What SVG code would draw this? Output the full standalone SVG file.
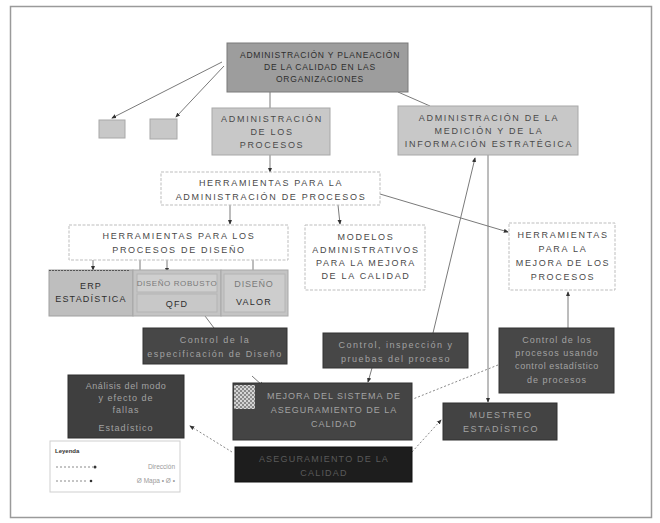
<svg xmlns="http://www.w3.org/2000/svg" width="660" height="523" viewBox="0 0 660 523">
  <style>
    text { font-family: "Liberation Sans", Arial, sans-serif; text-anchor: middle; }
    .t { font-size: 9px; letter-spacing: 1.7px; fill: #4a4a4a; }
    .tr { font-size: 8.5px; letter-spacing: 0.8px; fill: #2e2e2e; }
    .tb { font-size: 9px; letter-spacing: 1.2px; fill: #2e2e2e; }
    .td { font-size: 9px; letter-spacing: 1.5px; fill: #a2a2a2; }
    .gray { fill: #c8c8c8; stroke: #a8a8a8; stroke-width: 1; }
    .wht { fill: #ffffff; stroke: #bdbdbd; stroke-width: 1; stroke-dasharray: 3 1.5; }
    .dark { fill: #474747; stroke: #333; stroke-width: 1; }
    .ln { stroke: #7a7a7a; stroke-width: 1; fill: none; }
    .dl { stroke: #8a8a8a; stroke-width: 1; fill: none; stroke-dasharray: 2 2; }
  </style>
  <defs>
    <marker id="arr" viewBox="0 0 6 6" refX="5" refY="3" markerWidth="5" markerHeight="5" orient="auto">
      <path d="M0,0.5 L6,3 L0,5.5 Z" fill="#333"/>
    </marker>
    <pattern id="qr" width="4" height="4" patternUnits="userSpaceOnUse">
      <rect width="4" height="4" fill="#8a8a8a"/>
      <rect width="2" height="2" fill="#d8d8d8"/>
      <rect x="2" y="2" width="2" height="2" fill="#cfcfcf"/>
    </pattern>
  </defs>

  <!-- page frame -->
  <rect x="0" y="0" width="660" height="523" fill="#ffffff"/>
  <rect x="10.5" y="6.5" width="641" height="511" fill="#ffffff" stroke="#9a9a9a" stroke-width="1.5"/>

  <!-- connectors -->
  <g id="connectors">
    <line class="ln" x1="222" y1="62" x2="112" y2="118" marker-end="url(#arr)"/>
    <line class="ln" x1="224" y1="66" x2="176" y2="117" marker-end="url(#arr)"/>
    <line class="ln" x1="270" y1="92" x2="270" y2="108"/>
    <line class="ln" x1="398" y1="92" x2="430" y2="106"/>
    <line class="ln" x1="270" y1="155" x2="270" y2="172" marker-end="url(#arr)"/>
    <line class="ln" x1="230" y1="205" x2="230" y2="224" marker-end="url(#arr)"/>
    <line class="ln" x1="338" y1="205" x2="340" y2="224" marker-end="url(#arr)"/>
    <line class="ln" x1="380" y1="194" x2="508" y2="232" marker-end="url(#arr)"/>
    <line class="ln" x1="93" y1="260" x2="93" y2="270" marker-end="url(#arr)"/>
    <line class="ln" x1="140" y1="260" x2="140" y2="272"/>
    <line class="ln" x1="167" y1="260" x2="167" y2="272" marker-end="url(#arr)"/>
    <line class="ln" x1="253" y1="260" x2="253" y2="272"/>
    <line class="ln" x1="205" y1="316" x2="214" y2="328"/>
    <line class="ln" x1="252" y1="376" x2="263" y2="386" marker-end="url(#arr)"/>
    <line class="ln" x1="372" y1="368" x2="368" y2="382" marker-end="url(#arr)"/>
    <line class="ln" x1="433" y1="333" x2="475" y2="158" marker-end="url(#arr)"/>
    <line class="ln" x1="488" y1="155" x2="488" y2="402" marker-end="url(#arr)"/>
    <line class="ln" x1="568" y1="328" x2="568" y2="292" marker-end="url(#arr)"/>
    <line class="dl" x1="498" y1="365" x2="413" y2="399"/>
    <line class="dl" x1="232" y1="452" x2="190" y2="426" marker-end="url(#arr)"/>
    <line class="dl" x1="412" y1="452" x2="441" y2="420" marker-end="url(#arr)"/>
  </g>

  <!-- root node -->
  <g id="n-root">
    <rect x="227" y="43" width="181" height="49" fill="#9d9d9d" stroke="#7a7a7a"/>
    <text class="tr" x="320" y="58">ADMINISTRACIÓN Y PLANEACIÓN</text>
    <text class="tr" x="320" y="70">DE LA CALIDAD EN LAS</text>
    <text class="tr" x="320" y="82">ORGANIZACIONES</text>
  </g>

  <g id="n-small1"><rect class="gray" x="99" y="120" width="26" height="18"/></g>
  <g id="n-small2"><rect class="gray" x="150" y="119" width="27" height="20"/></g>

  <g id="n-procesos">
    <rect class="gray" x="212" y="108" width="118" height="47"/>
    <text class="t" x="272" y="122">ADMINISTRACIÓN</text>
    <text class="t" x="272" y="135">DE LOS</text>
    <text class="t" x="272" y="148">PROCESOS</text>
  </g>

  <g id="n-medicion">
    <rect class="gray" x="398" y="106" width="180" height="49"/>
    <text class="t" x="489" y="121">ADMINISTRACIÓN DE LA</text>
    <text class="t" x="489" y="134">MEDICIÓN Y DE LA</text>
    <text class="t" x="489" y="147">INFORMACIÓN ESTRATÉGICA</text>
  </g>

  <g id="n-herr-admin">
    <rect class="wht" x="161" y="172" width="219" height="33"/>
    <text class="t" x="271" y="186">HERRAMIENTAS PARA LA</text>
    <text class="t" x="271" y="200">ADMINISTRACIÓN DE PROCESOS</text>
  </g>

  <g id="n-herr-diseno">
    <rect class="wht" x="69" y="225" width="219" height="35"/>
    <text class="t" x="179" y="239">HERRAMIENTAS PARA LOS</text>
    <text class="t" x="179" y="253">PROCESOS DE DISEÑO</text>
  </g>

  <g id="n-modelos">
    <rect class="wht" x="305" y="225" width="120" height="65"/>
    <text class="t" x="366" y="240">MODELOS</text>
    <text class="t" x="366" y="253">ADMINISTRATIVOS</text>
    <text class="t" x="366" y="266">PARA LA MEJORA</text>
    <text class="t" x="366" y="279">DE LA CALIDAD</text>
  </g>

  <g id="n-herr-mejora">
    <rect class="wht" x="509" y="223" width="106" height="67"/>
    <text class="t" x="563" y="238">HERRAMIENTAS</text>
    <text class="t" x="563" y="252">PARA LA</text>
    <text class="t" x="563" y="266">MEJORA DE LOS</text>
    <text class="t" x="563" y="280">PROCESOS</text>
  </g>

  <!-- design tools strip -->
  <g id="n-erp">
    <rect x="49" y="270" width="84" height="46" fill="#bebebe" stroke="#a0a0a0"/>
    <line x1="49" y1="270.5" x2="130" y2="270.5" stroke="#555" stroke-dasharray="2 1"/>
    <text class="tb" x="91" y="289">ERP</text>
    <text class="tb" x="91" y="302">ESTADÍSTICA</text>
  </g>
  <g id="n-qfd">
    <rect x="133" y="270" width="88" height="46" fill="#c4c4c4" stroke="#a8a8a8"/>
    <rect x="137" y="274" width="80" height="18" fill="#cfcfcf" stroke="#b4b4b4"/>
    <rect x="137" y="294" width="80" height="18" fill="#c8c8c8" stroke="#b4b4b4"/>
    <text class="t" x="177" y="286" style="fill:#7a7a7a;font-size:8px;letter-spacing:0.6px">DISEÑO ROBUSTO</text>
    <text class="tb" x="177" y="307">QFD</text>
  </g>
  <g id="n-valor">
    <rect x="221" y="270" width="67" height="46" fill="#c4c4c4" stroke="#a8a8a8"/>
    <rect x="224" y="274" width="61" height="38" fill="#cdcdcd" stroke="#b4b4b4"/>
    <text class="t" x="254" y="287" style="fill:#7a7a7a;letter-spacing:0.8px">DISEÑO</text>
    <text class="tb" x="254" y="305">VALOR</text>
  </g>

  <!-- control nodes -->
  <g id="n-ctrl-diseno">
    <rect class="dark" x="143" y="328" width="144" height="36"/>
    <text class="td" x="215" y="343">Control de la</text>
    <text class="td" x="215" y="357">especificación de Diseño</text>
  </g>
  <g id="n-ctrl-insp">
    <rect class="dark" x="323" y="333" width="145" height="35"/>
    <text class="td" x="396" y="348">Control, inspección y</text>
    <text class="td" x="396" y="362">pruebas del proceso</text>
  </g>
  <g id="n-ctrl-proc">
    <rect class="dark" x="499" y="328" width="115" height="65"/>
    <text class="td" x="557" y="343" style="letter-spacing:1px">Control de los</text>
    <text class="td" x="557" y="356" style="letter-spacing:1px">procesos usando</text>
    <text class="td" x="557" y="369" style="letter-spacing:0.6px">control estadístico</text>
    <text class="td" x="557" y="383" style="letter-spacing:1px">de procesos</text>
  </g>
  <g id="n-analisis">
    <rect x="68" y="375" width="116" height="63" fill="#3f3f3f" stroke="#2e2e2e"/>
    <text class="td" x="126" y="389" style="letter-spacing:0.6px">Análisis del modo</text>
    <text class="td" x="126" y="401" style="letter-spacing:1px">y efecto de</text>
    <text class="td" x="126" y="413" style="letter-spacing:1px">fallas</text>
    <text class="td" x="126" y="431" style="letter-spacing:1px">Estadístico</text>
  </g>
  <g id="n-sistema">
    <rect x="233" y="383" width="179" height="57" fill="#444" stroke="#303030"/>
    <rect x="234" y="385" width="21" height="24" fill="url(#qr)"/>
    <text class="td" x="334" y="399" style="letter-spacing:1px">MEJORA DEL SISTEMA DE</text>
    <text class="td" x="334" y="413" style="letter-spacing:1px">ASEGURAMIENTO DE LA</text>
    <text class="td" x="334" y="427" style="letter-spacing:1px">CALIDAD</text>
  </g>
  <g id="n-muestreo">
    <rect x="443" y="403" width="114" height="37" fill="#434343" stroke="#303030"/>
    <text class="td" x="501" y="418">MUESTREO</text>
    <text class="td" x="501" y="432">ESTADÍSTICO</text>
  </g>
  <g id="n-aseguramiento">
    <rect x="235" y="447" width="177" height="35" fill="#1d1d1d" stroke="#111"/>
    <text class="td" x="324" y="462" style="fill:#5a5a5a;letter-spacing:1.2px">ASEGURAMIENTO DE LA</text>
    <text class="td" x="324" y="476" style="fill:#5a5a5a;letter-spacing:1.2px">CALIDAD</text>
  </g>

  <!-- legend -->
  <g id="legend">
    <rect x="50" y="441" width="130" height="51" fill="#ffffff" stroke="#cfcfcf"/>
    <text x="55" y="453" style="font-size:6px;font-weight:bold;fill:#333;text-anchor:start">Leyenda</text>
    <line class="dl" x1="56" y1="467" x2="93" y2="467"/>
    <circle cx="95" cy="467" r="1.5" fill="#333"/>
    <text x="175" y="469" style="font-size:6.5px;fill:#9a9a9a;text-anchor:end">Dirección</text>
    <line class="dl" x1="56" y1="481" x2="88" y2="481"/>
    <circle cx="91" cy="481" r="1.3" fill="#333"/>
    <text x="175" y="483" style="font-size:6.5px;fill:#9a9a9a;text-anchor:end">Ø Mapa • Ø •</text>
  </g>
</svg>
